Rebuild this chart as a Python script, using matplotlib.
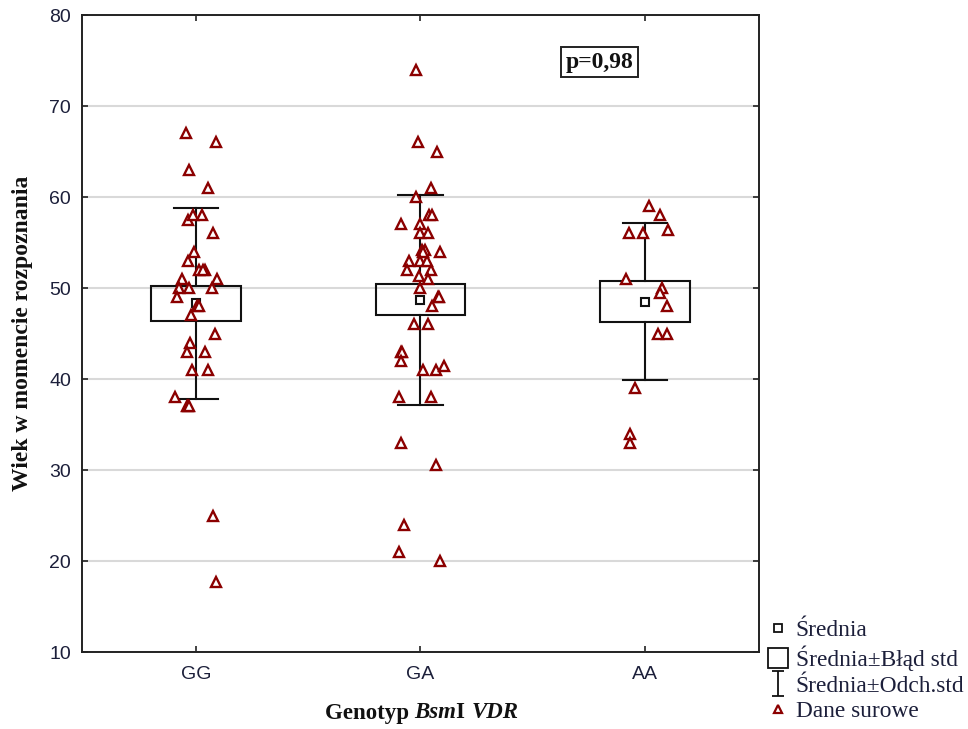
import matplotlib
matplotlib.use("Agg")
import matplotlib.pyplot as plt
import numpy as np
from matplotlib.lines import Line2D
from matplotlib.path import Path
from matplotlib.offsetbox import TextArea, HPacker, AnnotationBbox

# --- data -----------------------------------------------------------------
groups = ["GG", "GA", "AA"]

# summary statistics per genotype
means = [48.3, 48.7, 48.5]
std_errs = [1.87, 1.72, 2.27]
std_devs = [10.45, 11.55, 8.6]

# raw ages at diagnosis with their horizontal jitter (category units)
gg_ages = [67, 66, 63, 61, 57.5, 58, 58, 56, 54, 53, 52, 52, 52, 51, 51, 50, 50,
           50, 49, 48, 48, 47, 45, 44, 43, 43, 41, 41, 38, 37, 37, 37, 25, 17.7]
gg_jitter = [-0.043, 0.09, -0.03, 0.055, -0.034, -0.015, 0.025, 0.077, -0.008,
             -0.034, 0.015, 0.04, 0.03, -0.064, 0.092, -0.074, -0.03, 0.07,
             -0.083, 0.003, 0.012, -0.024, 0.085, -0.027, -0.041, 0.04, -0.016,
             0.055, -0.094, -0.042, -0.036, -0.03, 0.077, 0.089]

ga_ages = [74, 66, 65, 61, 60, 58, 58, 57, 57, 56, 56, 54.2, 54.2, 54, 54, 53,
           53, 53, 52, 52, 51.3, 51, 50, 49, 49, 48, 46, 46, 43, 43, 42, 41,
           41, 41.4, 38, 38, 33, 30.5, 24, 21, 20]
ga_jitter = [-0.022, -0.01, 0.074, 0.045, -0.018, 0.037, 0.052, -0.089, 0.0,
             0.0, 0.033, 0.008, 0.02, 0.012, 0.087, -0.052, 0.0, 0.03, -0.06,
             0.049, -0.007, 0.033, -0.003, 0.078, 0.082, 0.052, -0.03, 0.033,
             -0.089, -0.084, -0.086, 0.012, 0.067, 0.104, -0.094, 0.045,
             -0.086, 0.067, -0.074, -0.094, 0.086]

aa_ages = [59, 58, 56, 56, 56.4, 51, 50, 49.5, 48, 45, 45, 39, 34, 33]
aa_jitter = [0.018, 0.067, -0.071, -0.007, 0.104, -0.086, 0.074, 0.067, 0.097,
             0.06, 0.1, -0.045, -0.067, -0.067]

y_ticks = [10, 20, 30, 40, 50, 60, 70, 80]
p_text = "p=0,98"

# --- styling --------------------------------------------------------------
SERIF = ["Liberation Serif", "DejaVu Serif"]
SANS = ["Liberation Sans", "DejaVu Sans"]
TICK_COLOR = "#1c1f3a"
TEXT_COLOR = "#111111"
POINT_COLOR = "#8b0000"

fig = plt.figure(figsize=(9.68, 7.29), dpi=100)
ax = fig.add_axes([0.0847, 0.1056, 0.6994, 0.8738])

ax.set_xlim(-0.508, 2.508)
ax.set_ylim(10, 80)
ax.set_yticks(y_ticks)
ax.set_xticks(range(len(groups)))
ax.set_xticklabels(groups)

ax.yaxis.grid(True, color="#d9d9d9", linewidth=1.5, zorder=0)
ax.set_axisbelow(True)
for sp in ax.spines.values():
    sp.set_linewidth(1.4)
    sp.set_color("#222222")

ax.tick_params(axis="both", direction="in", length=4, width=1.2,
               top=True, right=True, colors="#222222",
               labelcolor=TICK_COLOR, labelsize=14)
ax.tick_params(axis="y", pad=8)
ax.tick_params(axis="x", pad=10)
for lbl in ax.get_xticklabels() + ax.get_yticklabels():
    lbl.set_family(SANS)

box_w = 0.40
cap_w = 0.20
for i, (m, se, sd) in enumerate(zip(means, std_errs, std_devs)):
    # mean ± standard error box
    ax.add_patch(plt.Rectangle((i - box_w / 2, m - se), box_w, 2 * se,
                               fill=False, edgecolor="#111111", linewidth=1.5,
                               zorder=3))
    # mean ± standard deviation whiskers
    ax.plot([i, i], [m + se, m + sd], color="#111111", lw=1.5, zorder=3)
    ax.plot([i, i], [m - se, m - sd], color="#111111", lw=1.5, zorder=3)
    ax.plot([i - cap_w / 2, i + cap_w / 2], [m + sd, m + sd],
            color="#111111", lw=1.5, zorder=3)
    ax.plot([i - cap_w / 2, i + cap_w / 2], [m - sd, m - sd],
            color="#111111", lw=1.5, zorder=3)
    # mean marker
    ax.plot(i, m, marker="s", ms=6, mfc="white", mec="#111111", mew=1.5,
            ls="none", zorder=4)

for i, (ages, jit) in enumerate([(gg_ages, gg_jitter), (ga_ages, ga_jitter),
                                 (aa_ages, aa_jitter)]):
    ax.plot(i + np.asarray(jit), ages, marker="^", ms=7, mfc="white",
            mec=POINT_COLOR, mew=1.7, ls="none", zorder=5)

# p-value box
ax.text(0.764, 0.926, p_text, transform=ax.transAxes, family=SERIF,
        fontweight="bold", fontsize=17, color=TEXT_COLOR, ha="center",
        va="center",
        bbox=dict(boxstyle="square,pad=0.2", fc="white", ec="#222222", lw=1.4))

# axis titles
ax.set_ylabel("Wiek w momencie rozpoznania", family=SERIF, fontweight="bold",
              fontsize=17, color=TEXT_COLOR)
ax.yaxis.set_label_coords(-0.072, 0.5)

xl_props = dict(family=SERIF, size=16.5, weight="bold", color=TEXT_COLOR)
parts = [TextArea("Genotyp ", textprops=xl_props),
         TextArea("Bsm", textprops=dict(xl_props, style="italic")),
         TextArea("I ", textprops=xl_props),
         TextArea("VDR", textprops=dict(xl_props, style="italic"))]
xlabel_box = HPacker(children=parts, align="baseline", pad=0, sep=0)
fig.add_artist(AnnotationBbox(xlabel_box, (421.5 / 968, 1 - 713 / 729),
                              xycoords="figure fraction", frameon=False,
                              box_alignment=(0.5, 0.5)))

# legend with custom handles
i_beam = Path([(-0.5, 1), (0.5, 1), (0, 1), (0, -1), (-0.5, -1), (0.5, -1)],
              [Path.MOVETO, Path.LINETO, Path.MOVETO, Path.LINETO,
               Path.MOVETO, Path.LINETO])
handles = [
    Line2D([], [], marker="s", ms=6, mfc="white", mec="#111111", mew=1.3,
           ls="none"),
    Line2D([], [], marker="s", ms=14, mfc="white", mec="#111111", mew=1.3,
           ls="none"),
    Line2D([], [], marker=i_beam, ms=18, mfc="none", mec="#111111", mew=1.3,
           ls="none"),
    Line2D([], [], marker="^", ms=6, mfc="white", mec=POINT_COLOR, mew=1.6,
           ls="none"),
]
labels = ["Średnia", "Średnia±Błąd std", "Średnia±Odch.std", "Dane surowe"]
fig.legend(handles, labels, loc="upper left",
           bbox_to_anchor=(769 / 968, 1 - 620 / 729),
           frameon=False, prop=dict(family=SERIF, size=16.8),
           labelcolor=TICK_COLOR, handlelength=0.8, handletextpad=0.35,
           labelspacing=0.18, borderpad=0, borderaxespad=0)

fig.savefig("out.png", dpi=100)
